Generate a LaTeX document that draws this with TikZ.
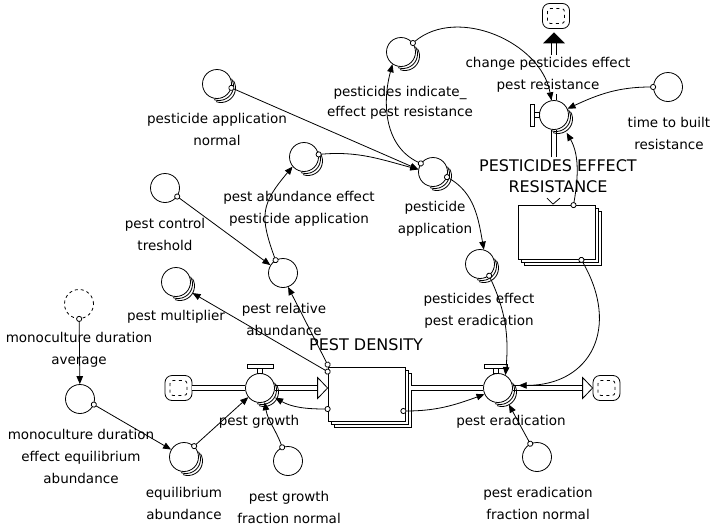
\documentclass[tikz,border=0pt]{standalone}
\usepackage{fontspec}
\setmainfont{DejaVu Sans}
\usetikzlibrary{arrows.meta, calc, shadows, positioning}

\begin{document}
\begin{tikzpicture}[x=1pt, y=-1pt, line width=0.8pt,
    aux/.style={circle, draw, fill=white, minimum size=29pt, inner sep=0pt},
    ghost/.style={aux, dash pattern=on 3pt off 3pt},
    valve/.style={aux},
    stock/.style={draw, fill=white, minimum width=77pt, minimum height=54pt, inner sep=0pt,
        double copy shadow={shadow xshift=3pt, shadow yshift=-3pt}},
    cloudbox/.style={draw, fill=white, rounded corners=7pt, minimum width=27pt, minimum height=25pt, inner sep=0pt,
        path picture={\draw[dash pattern=on 3pt off 3.5pt, rounded corners=3pt]
            ($(path picture bounding box.south west)+(5pt,5pt)$) rectangle
            ($(path picture bounding box.north east)+(-5pt,-5pt)$);}},
    lbl/.style={align=center, fill=white, inner xsep=1pt, inner ysep=2pt, font=\fontsize{13.5}{22}\selectfont},
    ulbl/.style={lbl, font=\fontsize{16}{21}\selectfont},
    link/.style={{Circle[length=6pt,width=6pt,fill=white]}-{Triangle[length=8pt,width=6.5pt]}, shorten <=-3pt},
    pipe/.style={draw=black, line width=1pt, double=white, double distance=3.5pt}]
    \useasboundingbox (0,0) rectangle (710,528);

    % auxiliaries
    \node[aux] (panorm) at (217,84) {};
    \node[aux] (paeffect) at (304,157) {};
    \node[aux] (ctrl) at (165,188) {};
    \node[aux] (relab) at (283,273) {};
    \node[aux] (mult) at (176,282) {};
    \node[ghost] (monoavg) at (79,304) {};
    \node[aux] (monoeff) at (80,399) {};
    \node[aux] (eqab) at (184,457) {};
    \node[aux] (growthfrac) at (288,461) {};
    \node[aux] (eradfrac) at (537,457) {};
    \node[aux] (pesteff) at (480,264) {};
    \node[aux] (papp) at (433,172) {};
    \node[aux] (indic) at (401,52) {};
    \node[aux] (tbuilt) at (668,87) {};

    % stocks, valves and clouds
    \node[stock] (density) at (366.5,394) {};
    \node[stock] (resist) at (556.5,232.5) {};
    \node[valve] (growth) at (260,388) {};
    \node[valve] (erad) at (498,388) {};
    \node[valve] (change) at (554,115) {};
    \node[cloudbox] (cloudL) at (178.5,388) {};
    \node[cloudbox] (cloudR) at (606.5,388) {};
    \node[cloudbox] (cloudT) at (556,16) {};

    % labels
    \node[lbl] (panormlbl) at (217,129) {pesticide application\\normal};
    \node[lbl] (paeffectlbl) at (299,209) {pest abundance effect\\pesticide application};
    \node[lbl] (ctrllbl) at (165,234.5) {pest control\\treshold};
    \node[lbl] (relablbl) at (284,319) {pest relative\\abundance};
    \node[lbl] (multlbl) at (176,317) {pest multiplier};
    \node[lbl] (monoavglbl) at (79,350) {monoculture duration\\average};
    \node[lbl] (monoefflbl) at (81,456) {monoculture duration\\effect equilibrium\\abundance};
    \node[lbl] (eqablbl) at (184,503) {equilibrium\\abundance};
    \node[lbl] (growthlbl) at (259,422) {pest growth};
    \node[lbl] (growthfraclbl) at (289,507) {pest growth\\fraction normal};
    \node[lbl] (eradlbl) at (511,422) {pest eradication};
    \node[lbl] (eradfraclbl) at (538,503) {pest eradication\\fraction normal};
    \node[lbl] (pestefflbl) at (479,310.5) {pesticides effect\\pest eradication};
    \node[lbl] (papplbl) at (435,219) {pesticide\\application};
    \node[lbl, font=\fontsize{13.5}{20}\selectfont] (indiclbl) at (400,103) {pesticides indicate\_\\effect pest resistance};
    \node[lbl] (changelbl) at (548,74.5) {change pesticides effect\\pest resistance};
    \node[lbl] (tbuiltlbl) at (669,133) {time to built\\resistance};
    \node[ulbl] (densitylbl) at (366,345) {PEST DENSITY};
    \node[ulbl] (resistlbl) at (558,176) {PESTICIDES EFFECT\\RESISTANCE};

    % flows
    \draw[pipe] (cloudL.east) -- (growth.west);
    \draw[pipe] (growth.east) -- ($(density.west |- growth)+(-10,0)$);
    \draw[pipe] ($(density.east |- erad)+(6,0)$) -- (erad.west);
    \draw[pipe] (erad.east) -- ($(cloudR.west |- erad)+(-10,0)$);
    \draw[pipe] (resistlbl.north -| change) -- (change.south);
    \draw[pipe] (change.north) -- (changelbl.south -| change);
    \draw[pipe] (changelbl.north -| change) -- ($(cloudT.south -| change)+(0,14)$);
    \draw[fill=white] ($(density.west |- growth)+(-10,-10.5)$) -- (density.west |- growth) -- ($(density.west |- growth)+(-10,10.5)$) -- cycle;
    \draw[fill=white] ($(cloudR.west |- erad)+(-10,-10.5)$) -- (cloudR.west |- erad) -- ($(cloudR.west |- erad)+(-10,10.5)$) -- cycle;
    \draw[fill=black] ($(cloudT.south -| change)+(-10,14)$) -- ($(cloudT.south -| change)+(0,4)$) -- ($(cloudT.south -| change)+(10,14)$) -- cycle;
    \draw ($(resist.north)+(-9.5,-7)$) -- ($(resist.north)+(-3.5,-1)$) -- ($(resist.north)+(3.5,-7)$);

    % valve handles
    \draw[fill=white] ($(growth.north)+(-13,-9)$) rectangle ($(growth.north)+(13,-5)$);
    \draw[fill=white] ($(growth.north)+(-2.5,-5)$) rectangle ($(growth.north)+(2.5,0)$);
    \draw[fill=white] ($(erad.north)+(-14,-9)$) rectangle ($(erad.north)+(9,-5)$);
    \draw[fill=white] ($(erad.north)+(-4.5,-5)$) rectangle ($(erad.north)+(0.5,0)$);
    \draw[fill=white] ($(change.west)+(-9,-11)$) rectangle ($(change.west)+(-5,11)$);
    \draw[fill=white] ($(change.west)+(-5,-2.5)$) rectangle ($(change.west)+(0,2.5)$);

    % graph marks
    \foreach \n in {panorm,paeffect,mult,eqab,papp,pesteff,indic,growth,erad,change}{
        \draw ([shift={(2,2)}]\n.center) ++(-30:14.5) arc[start angle=-30, end angle=110, radius=14.5];
        \draw ([shift={(4,4)}]\n.center) ++(-30:14.5) arc[start angle=-30, end angle=110, radius=14.5];
    }

    % connectors
    \draw[link] (panorm.-15) -- (papp.170);
    \draw[link] (paeffect.10) to[out=5,in=165] (papp.170);
    \draw[link] (papp.145) to[out=155,in=-105] (indic.-125);
    \draw[link] (ctrl.-35) -- (relab.148);
    \draw[link] (relab.120) to[out=110,in=-130,looseness=1.3] (paeffect.220);
    \draw[link] ([yshift=2pt]density.north west) -- (relab.-70);
    \draw[link, shorten >=5pt] ([yshift=-5pt]density.north west) -- (mult.-35);
    \draw[link, shorten >=3pt] ([yshift=-15pt]density.west) to[out=180,in=-30] (growth.-33);
    \draw[link] ([xshift=-2pt,yshift=-17pt]density.east) to[out=0,in=200] (erad.205);
    \draw[link] (monoavg) -- (monoeff);
    \draw[link] (monoeff.-22) -- (eqab.150);
    \draw[link] (eqab.47) -- (growth.218);
    \draw[link] (growthfrac.113) to[out=110,in=-80] (growth.-72);
    \draw[link, shorten >=5pt] (eradfrac.117) -- (erad.-55);
    \draw[link] (pesteff.-52) to[out=-65,in=85] (erad.60);
    \draw[link, shorten >=6pt] ([xshift=-14pt]resist.south east) to[out=-60,in=0,looseness=1.4] (erad.10);
    \draw[link] (papp.-20) to[out=-30,in=100] (pesteff.75);
    \draw[link] (indic.37) to[out=40,in=100] (change.100);
    \draw[link] (tbuilt.180) to[out=180,in=25] (change.25);
    \draw[link, shorten >=7pt] ([xshift=17pt]resist.north) to[out=80,in=-60] (change.-52);
\end{tikzpicture}
\end{document}
